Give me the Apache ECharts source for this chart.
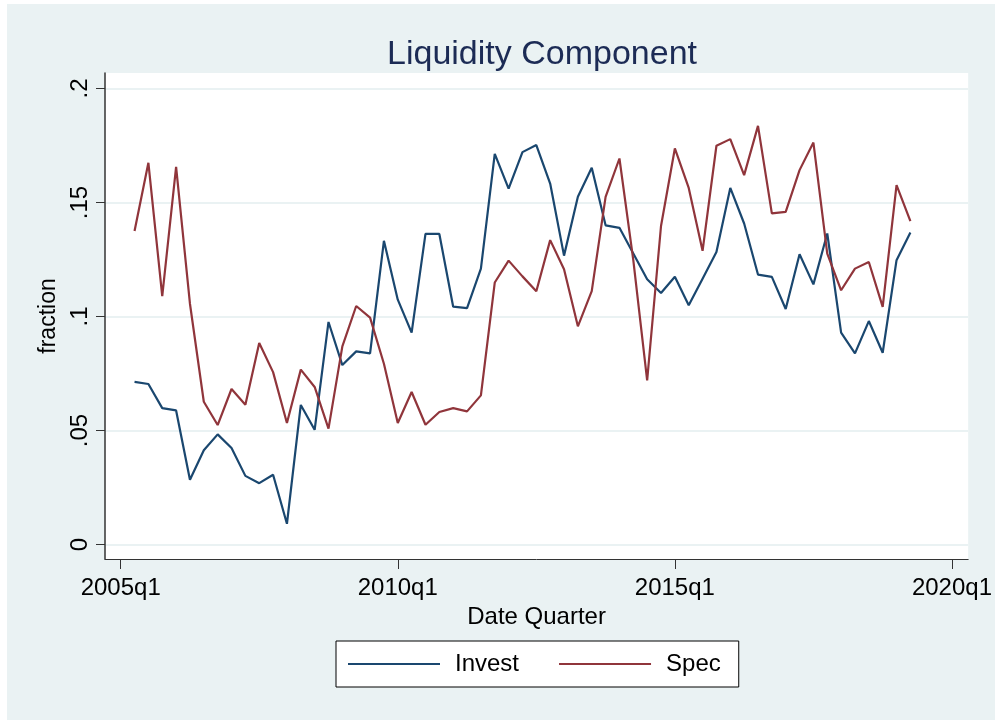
<!DOCTYPE html>
<html><head><meta charset="utf-8">
<script src="https://cdn.jsdelivr.net/npm/echarts@6/dist/echarts.min.js"></script>
<style>
html,body{margin:0;padding:0;background:#fff;}
#bg{position:absolute;left:7px;top:4px;width:988px;height:716px;background:#EAF2F3;}
#c{position:absolute;left:0;top:0;width:995px;height:720px;}
</style>
</head><body><div id="bg"></div><div id="c"></div>
<script>
const quarters = ['2005q2','2005q3','2005q4','2006q1','2006q2','2006q3','2006q4','2007q1','2007q2','2007q3','2007q4','2008q1','2008q2','2008q3','2008q4','2009q1','2009q2','2009q3','2009q4','2010q1','2010q2','2010q3','2010q4','2011q1','2011q2','2011q3','2011q4','2012q1','2012q2','2012q3','2012q4','2013q1','2013q2','2013q3','2013q4','2014q1','2014q2','2014q3','2014q4','2015q1','2015q2','2015q3','2015q4','2016q1','2016q2','2016q3','2016q4','2017q1','2017q2','2017q3','2017q4','2018q1','2018q2','2018q3','2018q4','2019q1','2019q2'];
const invest = [0.0713,0.0704,0.0598,0.0588,0.0284,0.0413,0.0483,0.0423,0.0301,0.0269,0.0306,0.0091,0.0612,0.0503,0.0976,0.0787,0.0847,0.0838,0.1332,0.1074,0.0929,0.1362,0.1362,0.1043,0.1037,0.1210,0.1713,0.1561,0.1721,0.1752,0.1583,0.1267,0.1525,0.1652,0.1400,0.1389,0.1276,0.1163,0.1103,0.1174,0.1049,0.1166,0.1283,0.1564,0.1408,0.1184,0.1174,0.1033,0.1273,0.1141,0.1364,0.0929,0.0838,0.0980,0.0841,0.1247,0.1368];
const spec = [0.1375,0.1674,0.1089,0.1656,0.1056,0.0626,0.0524,0.0682,0.0613,0.0884,0.0756,0.0533,0.0767,0.0691,0.0508,0.0869,0.1046,0.0995,0.0793,0.0533,0.0669,0.0525,0.0581,0.0598,0.0584,0.0654,0.1149,0.1245,0.1176,0.1111,0.1335,0.1207,0.0957,0.1111,0.1525,0.1693,0.1247,0.0720,0.1397,0.1737,0.1564,0.1288,0.1749,0.1778,0.1620,0.1836,0.1452,0.1459,0.1642,0.1763,0.1276,0.1115,0.1210,0.1239,0.1042,0.1576,0.1418];
const xTickLabels = ['2005q1','2010q1','2015q1','2020q1'];
const yTickValues = [0, 0.05, 0.1, 0.15, 0.2];

function qIndex(s){ const y = +s.slice(0,4), q = +s.slice(5); return (y-2005)*4 + (q-1); }
const xTicks = xTickLabels.map(qIndex);
const FONT = '"Liberation Sans", Arial, Helvetica, sans-serif';

const chart = echarts.init(document.getElementById('c'), null, {renderer:'canvas'});
chart.setOption({
  animation: false,
  backgroundColor: 'transparent',
  textStyle: {fontFamily: FONT},
  title: {
    text: 'Liquidity Component',
    left: 537, textAlign: 'center', top: 33,
    textStyle: {fontSize: 34, fontWeight: 'normal', color: '#1c2b55', fontFamily: FONT}
  },
  grid: {show: true, backgroundColor: '#fff', borderWidth: 0, left: 105, right: 26, top: 73, bottom: 161},
  legend: {
    left: 336, top: 641,
    backgroundColor: '#fff', borderColor: '#000', borderWidth: 1, borderRadius: 0,
    padding: [11, 18, 11, 12],
    icon: 'rect', itemWidth: 92, itemHeight: 2, itemGap: 40,
    textStyle: {fontSize: 24, color: '#000', fontFamily: FONT, padding: [0,0,0,10]},
    data: ['Invest', 'Spec']
  },
  xAxis: {
    type: 'value', min: -1.132, max: 61.17,
    name: 'Date Quarter', nameLocation: 'middle', nameGap: 40,
    nameTextStyle: {fontSize: 24, color: '#000', fontFamily: FONT},
    axisLine: {show: true, onZero: false, lineStyle: {color: '#333', width: 1}},
    axisTick: {show: true, length: 10, customValues: xTicks, lineStyle: {color: '#333', width: 1}},
    axisLabel: {show: true, customValues: xTicks, fontSize: 24, color: '#000', margin: 17,
      formatter: v => xTickLabels[xTicks.indexOf(Math.round(v))] || ''},
    splitLine: {show: false}
  },
  yAxis: {
    type: 'value', min: -0.00636, max: 0.2068,
    name: 'fraction', nameLocation: 'middle', nameRotate: 90, nameGap: 43,
    nameTextStyle: {fontSize: 23, color: '#000', fontFamily: FONT},
    axisLine: {show: true, onZero: false, lineStyle: {color: '#333', width: 1.5}},
    axisTick: {show: true, length: 9, customValues: yTickValues, lineStyle: {color: '#333', width: 1}},
    axisLabel: {show: true, customValues: yTickValues, rotate: 90, fontSize: 24, color: '#000', margin: 13,
      formatter: v => v === 0 ? '0' : String(+v.toFixed(2)).replace(/^0/, '')},
    splitLine: {show: true, lineStyle: {color: '#EAF2F3', width: 2}}
  },
  series: [
    {name: 'Invest', type: 'line', symbol: 'none', color: '#1a476f',
     lineStyle: {width: 2.2, color: '#1a476f'},
     data: quarters.map((q,i) => [qIndex(q), invest[i]])},
    {name: 'Spec', type: 'line', symbol: 'none', color: '#90353b',
     lineStyle: {width: 2.2, color: '#90353b'},
     data: quarters.map((q,i) => [qIndex(q), spec[i]])}
  ]
});
</script>
</body></html>
